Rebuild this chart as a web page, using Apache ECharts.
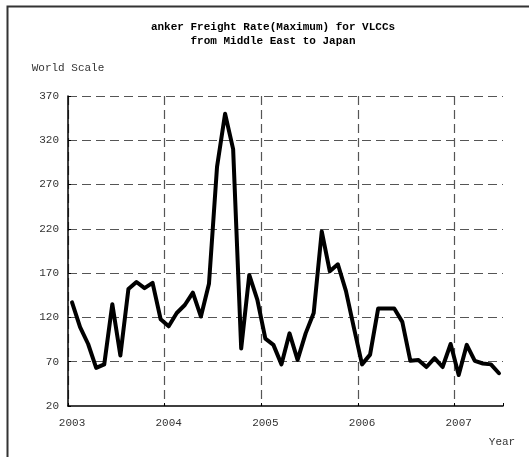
<!DOCTYPE html>
<html>
<head>
<meta charset="utf-8">
<script src="https://cdn.jsdelivr.net/npm/echarts@6/dist/echarts.min.js"></script>
<style>
html,body{margin:0;padding:0;background:#fff;}
#chart{width:529px;height:457px;}
</style>
</head>
<body>
<div id="chart"></div>
<script>
var titleLines = ['anker Freight Rate(Maximum) for VLCCs', 'from Middle East to Japan'];
var yAxisName = 'World Scale';
var xAxisName = 'Year';
var months = [
  '2003-01','2003-02','2003-03','2003-04','2003-05','2003-06','2003-07','2003-08','2003-09','2003-10','2003-11','2003-12',
  '2004-01','2004-02','2004-03','2004-04','2004-05','2004-06','2004-07','2004-08','2004-09','2004-10','2004-11','2004-12',
  '2005-01','2005-02','2005-03','2005-04','2005-05','2005-06','2005-07','2005-08','2005-09','2005-10','2005-11','2005-12',
  '2006-01','2006-02','2006-03','2006-04','2006-05','2006-06','2006-07','2006-08','2006-09','2006-10','2006-11','2006-12',
  '2007-01','2007-02','2007-03','2007-04','2007-05','2007-06'
];
var rates = [
  137, 109, 90, 63, 67, 135, 77, 152, 160, 153, 159, 118,
  110, 125, 134, 148, 121, 158, 290, 350, 310, 85, 168, 140,
  96, 89, 67, 102, 72, 102, 125, 217, 172, 180, 150, 108,
  67, 78, 130, 130, 130, 115, 71, 72, 64, 74, 64, 90,
  55, 89, 71, 68, 67, 57
];
var yMin = 20, yMax = 370, yStep = 50;

var labelFont = 'Liberation Mono';
var chart = echarts.init(document.getElementById('chart'), null, {renderer: 'canvas'});
chart.setOption({
  animation: false,
  backgroundColor: '#fff',
  title: {
    text: titleLines.join('\n'),
    left: 273,
    top: 20,
    textAlign: 'center',
    padding: 0,
    textStyle: {fontFamily: labelFont, fontWeight: 'bold', fontSize: 11, lineHeight: 14, color: '#000'}
  },
  graphic: [{
    type: 'polyline',
    shape: {points: [[7.5, 457], [7.5, 6.5], [529, 6.5]]},
    style: {stroke: '#333', lineWidth: 2, fill: null},
    silent: true
  }],
  grid: {left: 68, right: 26, top: 96, bottom: 51, containLabel: false},
  xAxis: {
    type: 'category',
    data: months,
    boundaryGap: true,
    name: xAxisName,
    nameLocation: 'end',
    nameGap: -1,
    nameTextStyle: {fontFamily: labelFont, fontSize: 11, color: '#333', align: 'center', verticalAlign: 'top', padding: [31, 0, 0, 0]},
    axisLine: {show: true, lineStyle: {color: '#000', width: 1.5}},
    axisTick: {show: true, inside: true, length: 3, interval: 11, lineStyle: {color: '#000'}},
    axisLabel: {
      interval: 11, margin: 12, fontFamily: labelFont, fontSize: 11, color: '#333',
      formatter: function (v) { return v.slice(0, 4); }
    },
    splitLine: {show: true, interval: 11, showMaxLine: false, lineStyle: {color: '#555', type: [9, 5], width: 1.2}}
  },
  yAxis: {
    type: 'value',
    min: yMin, max: yMax, interval: yStep,
    name: yAxisName,
    nameLocation: 'end',
    nameGap: 28,
    nameTextStyle: {fontFamily: labelFont, fontSize: 11, color: '#333', align: 'center', verticalAlign: 'middle'},
    axisLine: {show: true, lineStyle: {color: '#000', width: 1.5}},
    axisTick: {show: true, inside: true, length: 3, lineStyle: {color: '#000'}},
    axisLabel: {margin: 9, fontFamily: labelFont, fontSize: 11, color: '#333'},
    splitLine: {show: true, showMinLine: false, lineStyle: {color: '#555', type: [9, 5], width: 1.2}}
  },
  series: [{
    type: 'line',
    data: rates,
    showSymbol: false,
    symbol: 'none',
    smooth: false,
    lineStyle: {color: '#000', width: 4, join: 'round', cap: 'round'},
    z: 5
  }]
});
</script>
</body>
</html>
